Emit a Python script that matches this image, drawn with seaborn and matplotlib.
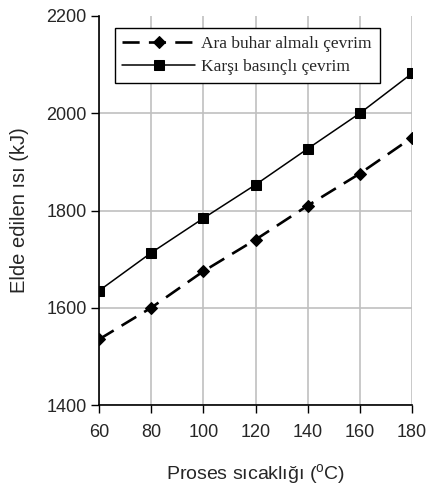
import matplotlib
matplotlib.use("Agg")
import matplotlib.pyplot as plt
import seaborn as sns
import pandas as pd

temps = [60, 80, 100, 120, 140, 160, 180]
ara_buhar = [1535, 1600, 1675, 1740, 1810, 1876, 1950]
karsi_basincli = [1635, 1713, 1784, 1853, 1927, 2000, 2082]
series_names = ["Ara buhar almalı çevrim", "Karşı basınçlı çevrim"]
x_ticks = [60, 80, 100, 120, 140, 160, 180]
y_ticks = [1400, 1600, 1800, 2000, 2200]

df = pd.DataFrame({
    "T": temps * 2,
    "Q": ara_buhar + karsi_basincli,
    "series": [series_names[0]] * len(temps) + [series_names[1]] * len(temps),
})

sns.set_style("white")
plt.rcParams["font.family"] = ["Liberation Sans", "DejaVu Sans"]
plt.rcParams["mathtext.fontset"] = "custom"
plt.rcParams["mathtext.rm"] = "Liberation Sans"

fig = plt.figure(figsize=(4.31, 4.92), dpi=100)
ax = fig.add_axes([0.2297, 0.1768, 0.956 - 0.2297, 0.9675 - 0.1768])

sns.lineplot(
    data=df, x="T", y="Q", style="series", hue="series",
    palette={series_names[0]: "black", series_names[1]: "black"},
    markers={series_names[0]: "D", series_names[1]: "s"},
    dashes={series_names[0]: (6.5, 3.5), series_names[1]: ""},
    markersize=7, ax=ax, legend=False,
)
for line in ax.lines:
    line.set_markeredgecolor("black")
ax.lines[0].set_linewidth(1.9)
ax.lines[0].set_markersize(6)
ax.lines[1].set_linewidth(1.1)

ax.set_xlim(60, 180)
ax.set_ylim(1400, 2200)
ax.set_xticks(x_ticks)
ax.set_yticks(y_ticks)
ax.grid(True, color="#c0c0c0", linewidth=1.2)
ax.set_axisbelow(True)
ygl = ax.get_ygridlines()
ygl[-1].set_visible(False)
for s in ["top", "right"]:
    ax.spines[s].set_visible(False)
for s in ["left", "bottom"]:
    ax.spines[s].set_color("black")
    ax.spines[s].set_linewidth(1.2)
ax.tick_params(axis="both", direction="out", length=6, width=1, color="black",
               labelsize=13, left=True, bottom=True)
ax.tick_params(axis="x", pad=8)
ax.tick_params(axis="y", pad=3)

ax.set_xlabel("Proses sıcaklığı ($^{\\rm o}$C)", fontsize=14, labelpad=15)
ax.set_ylabel("Elde edilen ısı (kJ)", fontsize=14.5, labelpad=12)

leg = ax.legend(handles=ax.lines[:2], labels=series_names,
                loc="upper left", bbox_to_anchor=(0.05, 0.97),
                frameon=True, fancybox=False, edgecolor="black", framealpha=1,
                handlelength=4.2, handletextpad=0.35, borderpad=0.45,
                labelspacing=0.4, borderaxespad=0,
                prop={"family": "Liberation Serif", "size": 12.5})
leg.get_frame().set_linewidth(1.0)

fig.savefig("out.png", dpi=100)
